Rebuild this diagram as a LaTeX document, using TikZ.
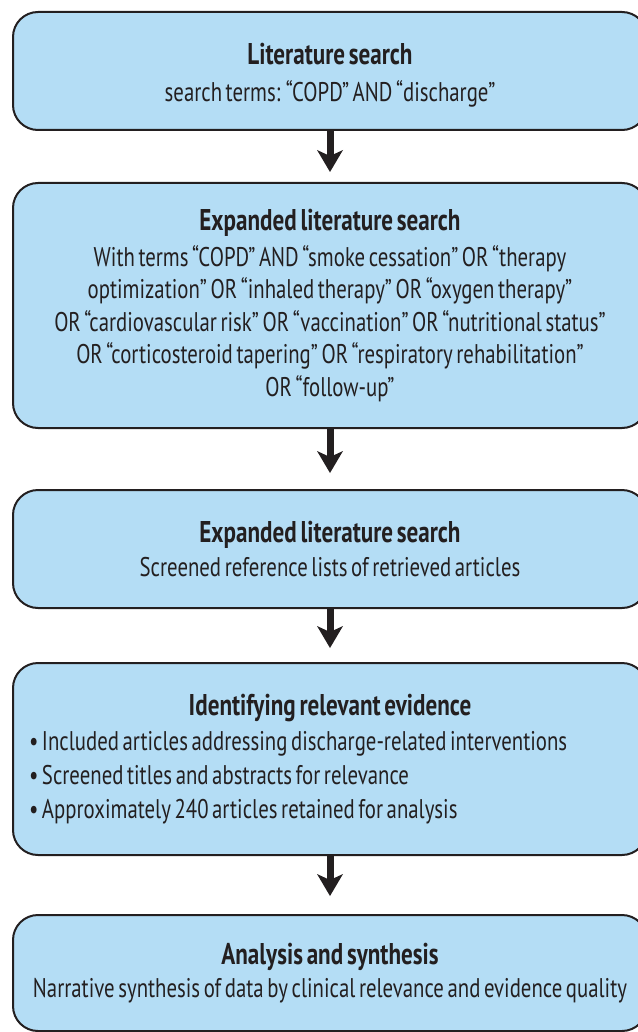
\documentclass[tikz,border=0pt]{standalone}
\usepackage{fontspec}
\setmainfont[FakeStretch=0.77,WordSpace=0.65]{PT Sans}
\usetikzlibrary{arrows.meta}
\definecolor{boxblue}{HTML}{B4DDF5}
\definecolor{ink}{HTML}{231F20}
\newcommand\boxtitle[1]{{\fontsize{30}{33}\selectfont\bfseries #1}}
\begin{document}
\begin{tikzpicture}[x=1pt,y=-1pt,
  stepbox/.style={draw=ink,line width=2pt,fill=boxblue,rounded corners=25pt,minimum width=634pt,align=center,inner sep=0pt,font=\fontsize{27}{32.5}\selectfont,text=ink},
  flow/.style={draw=ink,line width=7pt,-{Stealth[length=22pt,width=26pt,inset=6pt,line width=0pt]}}]
\useasboundingbox (0,0) rectangle (637,1032);
\node[stepbox,minimum height=118pt] (b1) at (330,71) {\rule{0pt}{30pt}\boxtitle{Literature search}\\[5pt]search terms: “COPD” AND “discharge”};
\node[stepbox,minimum height=245pt] (b2) at (330,305.5) {\boxtitle{Expanded literature search}\\[3pt]With terms “COPD” AND “smoke cessation” OR “therapy\\optimization” OR “inhaled therapy” OR “oxygen therapy”\\OR “cardiovascular risk” OR “vaccination” OR “nutritional status”\\OR “corticosteroid tapering” OR “respiratory rehabilitation”\\OR “follow-up”};
\node[stepbox,minimum height=118pt] (b3) at (330,549) {\boxtitle{Expanded literature search}\\[2pt]Screened reference lists of retrieved articles};
\node[stepbox,minimum height=192pt,text width=602pt,align=flush left,font=\fontsize{27}{34}\selectfont] (b4) at (330,759) {\makebox[602pt]{\boxtitle{Identifying relevant evidence}}\\[1pt]• Included articles addressing discharge-related interventions\\• Screened titles and abstracts for relevance\\• Approximately 240 articles retained for analysis};
\node[stepbox,minimum height=116pt] (b5) at (330,973) {\boxtitle{Analysis and synthesis}\\Narrative synthesis of data by clinical relevance and evidence quality};
\draw[flow,shorten >=10pt] (b1.south) -- (b2.north);
\draw[flow,shorten >=16pt] (b2.south) -- (b3.north);
\draw[flow,shorten >=14pt] (b3.south) -- (b4.north);
\draw[flow,shorten >=18pt] (b4.south) -- (b5.north);
\end{tikzpicture}
\end{document}
